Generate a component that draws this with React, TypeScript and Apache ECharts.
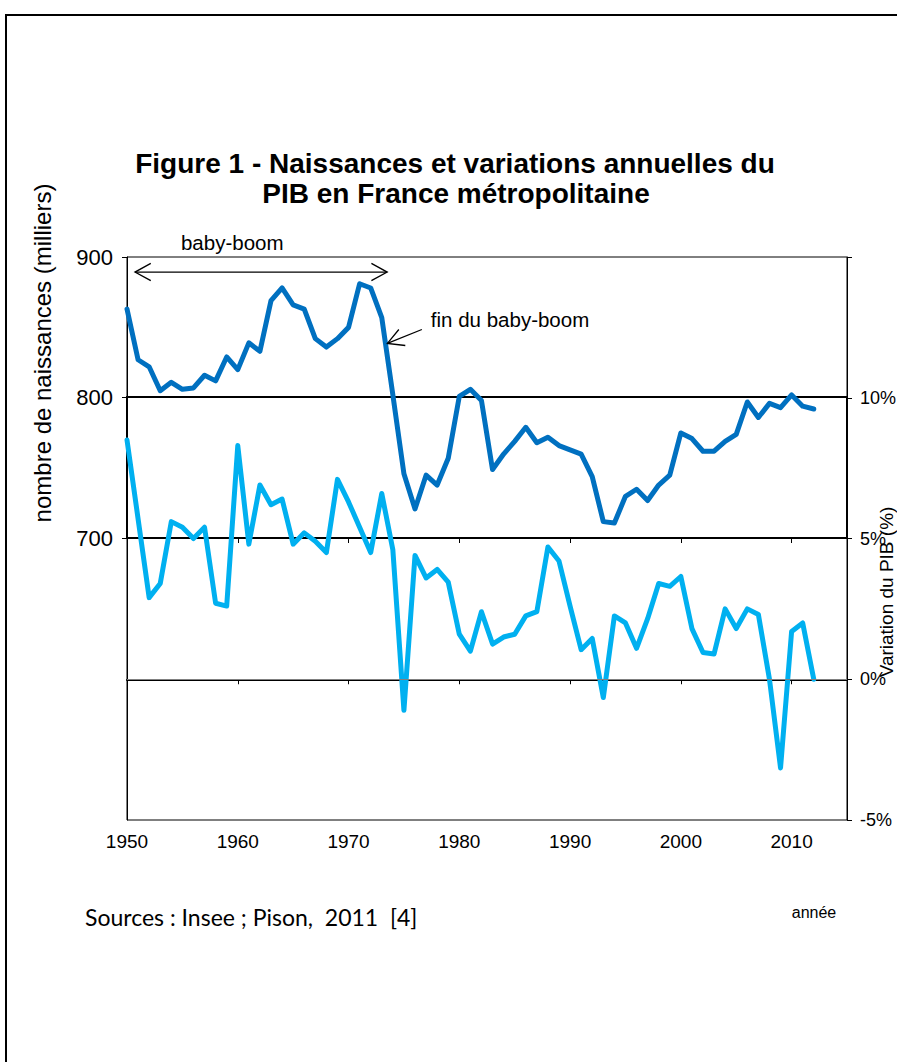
import React, { useEffect, useRef } from "react";
import * as echarts from "echarts";

const years = [
  1950, 1951, 1952, 1953, 1954, 1955, 1956, 1957, 1958, 1959,
  1960, 1961, 1962, 1963, 1964, 1965, 1966, 1967, 1968, 1969,
  1970, 1971, 1972, 1973, 1974, 1975, 1976, 1977, 1978, 1979,
  1980, 1981, 1982, 1983, 1984, 1985, 1986, 1987, 1988, 1989,
  1990, 1991, 1992, 1993, 1994, 1995, 1996, 1997, 1998, 1999,
  2000, 2001, 2002, 2003, 2004, 2005, 2006, 2007, 2008, 2009,
  2010, 2011, 2012,
];

// Naissances (milliers)
const births = [
  863, 827, 822, 805, 811, 806, 807, 816, 812, 829,
  820, 839, 833, 869, 878, 866, 863, 842, 836, 842,
  850, 881, 878, 857, 802, 746, 721, 745, 738, 757,
  801, 806, 798, 749, 760, 769, 779, 768, 772, 766,
  763, 760, 744, 712, 711, 730, 735, 727, 738, 745,
  775, 771, 762, 762, 769, 774, 797, 786, 796, 793,
  802, 794, 792,
];

// Variation annuelle du PIB (%)
const gdp = [
  8.5, 5.7, 2.9, 3.4, 5.6, 5.4, 5.0, 5.4, 2.7, 2.6,
  8.3, 4.8, 6.9, 6.2, 6.4, 4.8, 5.2, 4.9, 4.5, 7.1,
  6.3, 5.4, 4.5, 6.6, 4.6, -1.1, 4.4, 3.6, 3.9, 3.45,
  1.6, 1.0, 2.4, 1.25, 1.5, 1.6, 2.25, 2.4, 4.7, 4.2,
  2.6, 1.05, 1.45, -0.65, 2.25, 2.0, 1.1, 2.15, 3.4, 3.3,
  3.65, 1.8, 0.95, 0.9, 2.5, 1.8, 2.5, 2.3, 0.0, -3.15,
  1.7, 2.0, 0.0,
];

const titleLines = [
  "Figure 1 - Naissances et variations annuelles du",
  "PIB en France métropolitaine",
];
const leftAxisName = "nombre de naissances (milliers)";
const rightAxisName = "Variation du PIB (%)";
const xAxisName = "année";
const sourceText = "Sources : Insee ; Pison,  2011  [4]";
const babyBoomLabel = "baby-boom";
const finLabel = "fin du baby-boom";

const FONT = "'Liberation Sans', Arial, Helvetica, sans-serif";

export default function App() {
  const ref = useRef<HTMLDivElement>(null);

  useEffect(() => {
    document.body.style.margin = "0";
    const chart = echarts.init(ref.current as HTMLDivElement, null, {
      renderer: "svg",
      width: 897,
      height: 1062,
    });
    const birthData = years.map((y, i) => [y, births[i]]);
    const gdpData = years.map((y, i) => [y, gdp[i]]);

    chart.setOption({
      animation: false,
      backgroundColor: "#ffffff",
      grid: [
        {
          left: 127, width: 720, top: 257, height: 563, outerBoundsMode: "none",
          show: true, borderColor: "#000", borderWidth: 1, backgroundColor: "transparent",
        },
        {
          left: 127, width: 720, top: 397, height: 141, outerBoundsMode: "none",
          show: true, borderColor: "#000", borderWidth: 2, backgroundColor: "transparent",
        },
        {
          left: 127, width: 720, top: 257, height: 281, outerBoundsMode: "none", show: false,
        },
      ],
      xAxis: [
        {
          gridIndex: 0, type: "value", min: 1950, max: 2015, interval: 10,
          axisLine: { lineStyle: { color: "#000", width: 2 } },
          axisTick: { length: 5, lineStyle: { color: "#000" } },
          axisLabel: {
            formatter: (v: number) => (v % 10 === 0 ? String(v) : ""),
            color: "#000", fontSize: 19, margin: 12, fontFamily: FONT,
          },
          splitLine: { show: false },
        },
        {
          gridIndex: 1, type: "value", min: 1950, max: 2015, interval: 10,
          axisLine: { lineStyle: { color: "#000", width: 2 } },
          axisTick: { length: 5, lineStyle: { color: "#000" } },
          axisLabel: { show: false },
          splitLine: { show: false },
        },
        { gridIndex: 2, type: "value", min: 1950, max: 2015, show: false },
      ],
      yAxis: [
        {
          gridIndex: 0, type: "value", min: 500, max: 900, interval: 100, position: "left",
          axisLine: { show: true, lineStyle: { color: "#000", width: 1 } },
          axisTick: { show: false },
          axisLabel: { show: false },
          splitLine: { show: false },
        },
        {
          gridIndex: 0, type: "value", min: -5, max: 15, interval: 5, position: "right",
          axisLine: { show: true, lineStyle: { color: "#000", width: 1 } },
          axisTick: { show: true, length: 5, lineStyle: { color: "#000" } },
          axisLabel: {
            formatter: (v: number) => (v < 15 ? v + "%" : ""),
            color: "#000", fontSize: 18, margin: 13, fontFamily: FONT,
          },
          splitLine: { show: false },
        },
        { gridIndex: 1, type: "value", min: 0, max: 1, show: false },
        {
          gridIndex: 2, type: "value", min: 700, max: 900, interval: 100, position: "left",
          axisLine: { show: false },
          axisTick: { show: true, length: 5, lineStyle: { color: "#000" } },
          axisLabel: { color: "#000", fontSize: 22, margin: 14, fontFamily: FONT },
          splitLine: { show: false },
        },
      ],
      series: [
        {
          type: "line", xAxisIndex: 0, yAxisIndex: 0, data: birthData,
          symbol: "none", z: 4,
          lineStyle: { color: "#0070C0", width: 5, join: "round", cap: "round" },
          itemStyle: { color: "#0070C0" },
        },
        {
          type: "line", xAxisIndex: 0, yAxisIndex: 1, data: gdpData,
          symbol: "none", z: 4,
          lineStyle: { color: "#00B0F0", width: 5, join: "round", cap: "round" },
          itemStyle: { color: "#00B0F0" },
          markLine: {
            silent: true, symbol: "none", label: { show: false },
            lineStyle: { color: "#808080", width: 1, type: "solid" },
            data: [{ yAxis: 0 }],
          },
        },
      ],
    });

    const p = (x: number, y: number) =>
      chart.convertToPixel({ seriesIndex: 0 }, [x, y]) as number[];

    const chevron = (tip: number[], from: number[], len: number, ang: number) => {
      const dx = from[0] - tip[0];
      const dy = from[1] - tip[1];
      const d = Math.hypot(dx, dy);
      const ux = dx / d, uy = dy / d;
      const rot = (a: number) => [
        tip[0] + len * (ux * Math.cos(a) - uy * Math.sin(a)),
        tip[1] + len * (ux * Math.sin(a) + uy * Math.cos(a)),
      ];
      return [rot(ang), tip, rot(-ang)];
    };

    const bbL = p(1950.72, 889.3);
    const bbR = p(1973.49, 889.3);
    const finTip = p(1973.51, 838.6);
    const finTail = p(1976.62, 848.5);
    const bbText = p(1959.5, 910.3);
    const finText = p(1977.43, 855.9);

    const stroke = { stroke: "#000", lineWidth: 1.3, fill: null };

    chart.setOption({
      graphic: [
        {
          type: "rect", z: 1, silent: true,
          shape: { x: 6, y: 15, width: 1000, height: 1200 },
          style: { stroke: "#000", lineWidth: 2, fill: null },
        },
        {
          type: "text", z: 10, x: 455, y: 163,
          style: {
            text: titleLines[0], fontSize: 28, fontWeight: "bold", fontFamily: FONT,
            fill: "#000", align: "center", verticalAlign: "middle",
          },
        },
        {
          type: "text", z: 10, x: 456, y: 193,
          style: {
            text: titleLines[1], fontSize: 28, fontWeight: "bold", fontFamily: FONT,
            fill: "#000", align: "center", verticalAlign: "middle",
          },
        },
        {
          type: "text", z: 10, x: 42, y: 353, rotation: Math.PI / 2,
          style: {
            text: leftAxisName, fontSize: 24, fontFamily: FONT,
            fill: "#000", align: "center", verticalAlign: "middle",
          },
        },
        {
          type: "text", z: 10, x: 886, y: 592, rotation: Math.PI / 2,
          style: {
            text: rightAxisName, fontSize: 19, fontFamily: FONT,
            fill: "#000", align: "center", verticalAlign: "middle",
          },
        },
        {
          type: "text", z: 10, x: 814, y: 912,
          style: {
            text: xAxisName, fontSize: 16, fontFamily: FONT,
            fill: "#000", align: "center", verticalAlign: "middle",
          },
        },
        {
          type: "text", z: 10, x: 85, y: 917,
          style: {
            text: sourceText, fontSize: 23, fontFamily: "Lato, 'Open Sans', sans-serif",
            fill: "#000", align: "left", verticalAlign: "middle",
          },
        },
        {
          type: "text", z: 10, x: bbText[0], y: bbText[1],
          style: {
            text: babyBoomLabel, fontSize: 20.5, fontFamily: FONT,
            fill: "#000", align: "center", verticalAlign: "middle",
          },
        },
        {
          type: "text", z: 10, x: finText[0], y: finText[1],
          style: {
            text: finLabel, fontSize: 20.5, fontFamily: FONT,
            fill: "#000", align: "left", verticalAlign: "middle",
          },
        },
        {
          type: "polyline", z: 10, silent: true,
          shape: { points: [bbL, bbR] }, style: stroke,
        },
        {
          type: "polyline", z: 10, silent: true,
          shape: { points: chevron(bbL, bbR, 18, 0.5) }, style: stroke,
        },
        {
          type: "polyline", z: 10, silent: true,
          shape: { points: chevron(bbR, bbL, 18, 0.5) }, style: stroke,
        },
        {
          type: "polyline", z: 10, silent: true,
          shape: { points: [finTip, finTail] }, style: stroke,
        },
        {
          type: "polyline", z: 10, silent: true,
          shape: { points: chevron(finTip, finTail, 18, 0.5) }, style: stroke,
        },
      ],
    });

    return () => chart.dispose();
  }, []);

  return <div ref={ref} style={{ width: 897, height: 1062 }} />;
}
